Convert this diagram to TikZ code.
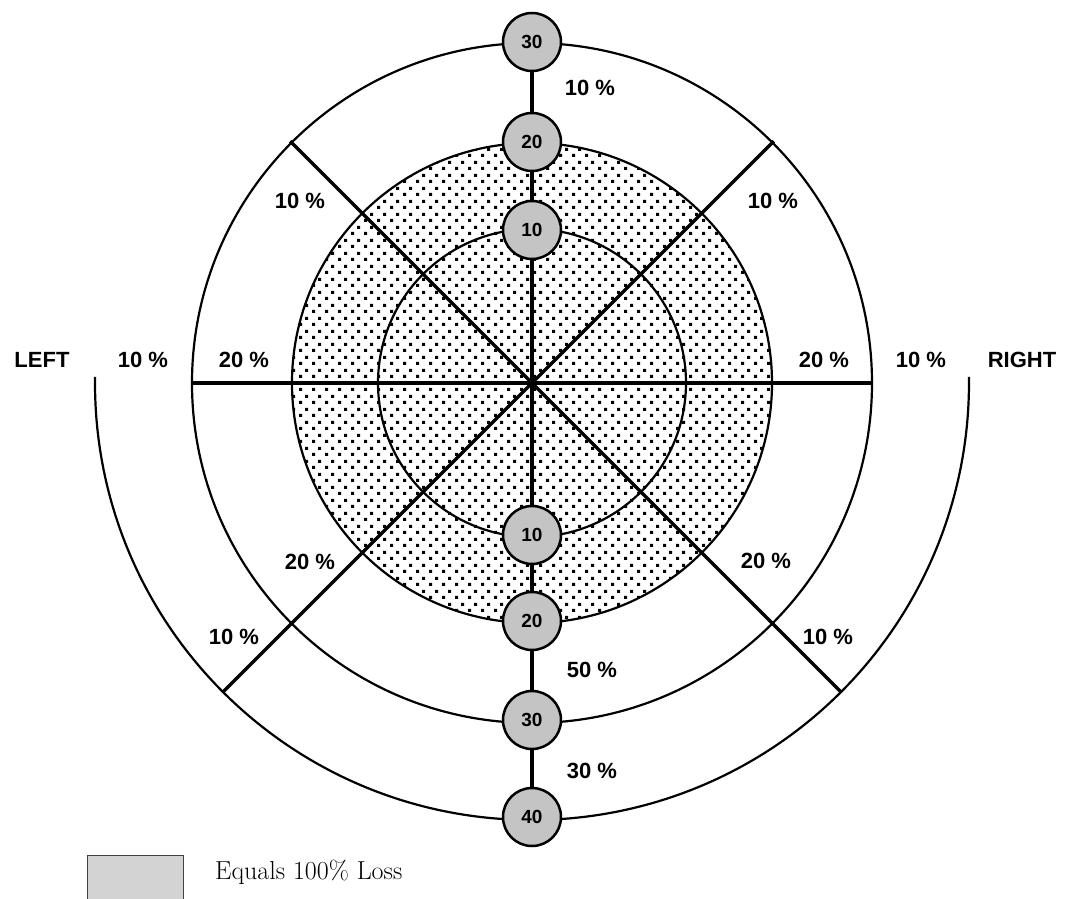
\documentclass[tikz,border=0pt]{standalone}
\usepackage{fontspec}
\newfontfamily\labfont{Liberation Sans}
\usetikzlibrary{patterns.meta}
\definecolor{nodegray}{RGB}{196,196,196}
\definecolor{legendgray}{RGB}{211,211,212}
\tikzdeclarepattern{
  name=stipple,
  type=uncolored,
  bounding box={(0pt,0pt) and (13pt,13pt)},
  tile size={(13pt,13pt)},
  code={
    \fill (0pt,0pt) rectangle (3.3pt,3.3pt);
    \fill (6.5pt,6.5pt) rectangle (9.8pt,9.8pt);
  }
}
\tikzset{
  ring/.style={line width=2.2pt},
  spoke/.style={line width=3.5pt},
  lbl/.style={font=\labfont\bfseries\fontsize{22}{22}\selectfont, inner sep=0pt},
  pnode/.style={circle, draw, line width=2.5pt, fill=nodegray, minimum size=58pt,
    inner sep=0pt, font=\labfont\bfseries\fontsize{19}{19}\selectfont},
}
\begin{document}
\begin{tikzpicture}[x=1pt,y=1pt]
\useasboundingbox (-532,-515) rectangle (534,383);
% shaded disc and rings
\fill[pattern=stipple, pattern color=black] (0,0) circle[radius=240];
\draw[ring] (0,0) circle[radius=240];
\draw[ring] (0,0) circle[radius=154];
\draw[ring] (0,0) circle[radius=340];
\draw[ring] (179.2:437) arc[start angle=179.2, end angle=360.8, radius=437];
% coordinates
\coordinate (c) at (0,0);
\coordinate (L) at (180:341);
\coordinate (R) at (0:341);
\coordinate (UL) at (135:342);
\coordinate (UR) at (45:342);
\coordinate (LL) at (225:436);
\coordinate (LR) at (-45:436);
% spokes
\draw[spoke] (L) -- (R);
\draw[spoke] (UL) -- (LR);
\draw[spoke] (UR) -- (LL);
% value nodes
\node[pnode] (n30t) at (0,341) {30};
\node[pnode] (n20t) at (0,241) {20};
\node[pnode] (n10t) at (0,153) {10};
\node[pnode] (n10b) at (0,-152) {10};
\node[pnode] (n20b) at (0,-238) {20};
\node[pnode] (n30b) at (0,-337) {30};
\node[pnode] (n40b) at (0,-434) {40};
\draw[spoke] (n30t) -- (n20t);
\draw[spoke] (n20t) -- (n10t);
\draw[spoke] (n10t) -- (n10b);
\draw[spoke] (n10b) -- (n20b);
\draw[spoke] (n20b) -- (n30b);
\draw[spoke] (n30b) -- (n40b);
% labels
\node[lbl] (t10) at (58,295) {10 \%};
\node[lbl] (ul10) at (-232,182) {10 \%};
\node[lbl] (ur10) at (241,182) {10 \%};
\node[lbl] (left) at (-490,23) {LEFT};
\node[lbl] (l10) at (-389,23) {10 \%};
\node[lbl] (l20) at (-288,23) {20 \%};
\node[lbl] (r20) at (292,23) {20 \%};
\node[lbl] (r10) at (389,23) {10 \%};
\node[lbl] (right) at (490,23) {RIGHT};
\node[lbl] (ll20) at (-222,-179) {20 \%};
\node[lbl] (ll10) at (-298,-254) {10 \%};
\node[lbl] (lr20) at (234,-178) {20 \%};
\node[lbl] (lr10) at (296,-254) {10 \%};
\node[lbl] (b50) at (60,-287) {50 \%};
\node[lbl] (b30) at (60,-388) {30 \%};
% legend
\draw[fill=legendgray, draw=black!75, line width=1pt] (-444,-472) rectangle (-348,-530);
\node[anchor=base west, inner sep=0pt, font=\fontsize{26}{26}\selectfont] (legend) at (-317,-496) {Equals 100\% Loss};
\end{tikzpicture}
\end{document}
